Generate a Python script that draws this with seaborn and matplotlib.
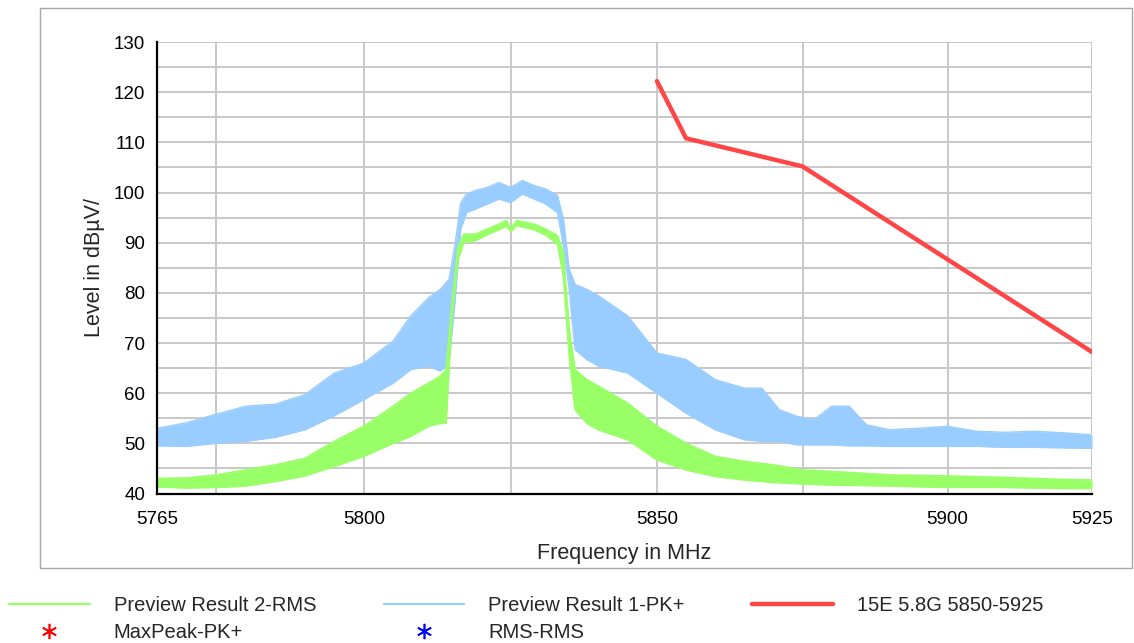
import numpy as np
import matplotlib
matplotlib.use("Agg")
import matplotlib.pyplot as plt
from matplotlib.lines import Line2D
from matplotlib.patches import Rectangle
from matplotlib.ticker import FixedLocator, FixedFormatter, NullLocator
import seaborn as sns

# Preview Result 1-PK+ (light blue band: lower / upper envelope, dBuV)
pk_freq = [5765, 5770, 5775, 5780, 5785, 5790, 5795, 5800, 5805, 5808, 5811, 5813,
           5814.5, 5815.5, 5816.5, 5817.5, 5819, 5821, 5823, 5825, 5827, 5829, 5831,
           5833, 5834, 5835, 5836, 5838, 5840, 5845, 5850, 5855, 5860, 5865, 5868,
           5871, 5874, 5877, 5880, 5883, 5886, 5890, 5895, 5900, 5905, 5910, 5915,
           5920, 5925]
pk_lo = [49.5, 49.4, 50.0, 50.4, 51.2, 52.7, 55.5, 58.7, 62.0, 64.7, 65.4, 64.4,
         66.0, 78.0, 92.7, 96.0, 96.7, 97.7, 98.7, 98.0, 99.7, 98.7, 97.7,
         96.0, 89.4, 80.7, 68.7, 66.7, 65.4, 64.0, 60.0, 56.0, 52.7, 50.7, 50.4,
         50.4, 49.7, 49.7, 49.7, 49.5, 49.5, 49.4, 49.4, 49.4, 49.4, 49.2, 49.2,
         49.1, 49.0]
pk_hi = [53.0, 54.1, 55.8, 57.4, 57.8, 59.7, 64.0, 66.0, 70.4, 75.4, 79.0, 80.7,
         82.7, 89.4, 98.0, 99.7, 100.4, 101.0, 102.0, 101.0, 102.4, 101.4, 100.7,
         99.4, 94.7, 84.7, 81.7, 80.7, 79.4, 75.4, 68.0, 66.7, 62.7, 61.0, 61.0,
         56.7, 55.4, 54.7, 57.4, 57.4, 53.7, 52.7, 53.0, 53.4, 52.4, 52.2, 52.4,
         52.1, 51.7]

# Preview Result 2-RMS (light green band)
rms_freq = [5765, 5770, 5775, 5780, 5785, 5790, 5795, 5800, 5805, 5808, 5811, 5813,
            5814, 5815, 5816, 5817, 5819, 5821, 5823, 5824.3, 5825, 5826, 5829, 5831,
            5833, 5834, 5835, 5836, 5838, 5840, 5845, 5850, 5855, 5860, 5865, 5870,
            5875, 5880, 5890, 5900, 5910, 5920, 5925]
rms_lo = [41.3, 41.1, 41.2, 41.5, 42.4, 43.5, 45.4, 47.4, 50.0, 51.4, 53.4, 54.0,
          54.0, 75.5, 86.5, 90.0, 90.4, 91.6, 92.6, 93.3, 92.2, 93.4, 92.6, 91.5,
          89.7, 83.4, 67.4, 56.7, 54.0, 52.7, 50.7, 46.7, 44.7, 43.4, 42.7, 42.2,
          41.9, 41.7, 41.5, 41.2, 41.2, 41.0, 41.0]
rms_hi = [43.0, 43.1, 43.7, 44.7, 45.7, 47.0, 50.4, 53.4, 57.4, 60.0, 62.0, 63.4,
          64.7, 78.0, 89.0, 91.7, 91.7, 92.7, 93.7, 94.4, 92.8, 94.4, 93.7, 92.7,
          91.4, 88.0, 72.7, 64.7, 62.7, 61.4, 58.0, 53.4, 50.0, 47.4, 46.4, 45.7,
          44.7, 44.4, 43.7, 43.5, 43.2, 42.8, 42.7]

# 15E 5.8G 5850-5925 limit line
limit_freq = [5850, 5855, 5875, 5925]
limit_level = [122.2, 110.8, 105.2, 68.2]

x_ticks = [5765, 5775, 5800, 5825, 5850, 5875, 5900, 5925]
x_labels = ["5765", "", "5800", "", "5850", "", "5900", "5925"]
y_ticks = list(range(40, 131, 5))
y_labels = [str(v) if v % 10 == 0 else "" for v in y_ticks]

GREEN = "#99ff66"
BLUE = "#99ccff"
RED = "#ff4545"

sns.set_style("white")
plt.rcParams["font.family"] = ["Liberation Sans", "DejaVu Sans"]

fig = plt.figure(figsize=(11.34, 6.43), dpi=100)
ax = fig.add_axes([157 / 1134, 1 - 493.5 / 643, (1092 - 157) / 1134, (493.5 - 42) / 643])

ax.fill_between(pk_freq, pk_lo, pk_hi, color=BLUE, lw=0, zorder=2)
ax.plot(pk_freq, pk_hi, color=BLUE, lw=1, zorder=2)
ax.plot(pk_freq, pk_lo, color=BLUE, lw=1, zorder=2)
ax.fill_between(rms_freq, rms_lo, rms_hi, color=GREEN, lw=0, zorder=3)
ax.plot(rms_freq, rms_hi, color=GREEN, lw=1.2, zorder=3)
ax.plot(rms_freq, rms_lo, color=GREEN, lw=1.2, zorder=3)
sns.lineplot(x=limit_freq, y=limit_level, ax=ax, color=RED, lw=3.2, zorder=4)

ax.set_xscale("log")
ax.set_xlim(5765, 5925)
ax.set_ylim(40, 130)
ax.xaxis.set_major_locator(FixedLocator(x_ticks))
ax.xaxis.set_major_formatter(FixedFormatter(x_labels))
ax.xaxis.set_minor_locator(NullLocator())
ax.yaxis.set_major_locator(FixedLocator(y_ticks))
ax.yaxis.set_major_formatter(FixedFormatter(y_labels))

ax.set_axisbelow(True)
ax.grid(True, color="#c8c8c8", lw=1.4)
for side in ["top", "right"]:
    ax.spines[side].set_visible(False)
for side in ["left", "bottom"]:
    ax.spines[side].set_color("black")
    ax.spines[side].set_linewidth(1.6)
    ax.spines[side].set_zorder(5)
ax.tick_params(axis="both", direction="inout", length=11, width=1.5,
               color="black", labelsize=13.5, labelcolor="black")
ax.tick_params(axis="x", pad=7)
ax.tick_params(axis="y", pad=3)

ax.set_xlabel("Frequency in MHz", fontsize=15.5, labelpad=11)
ax.set_ylabel("Level in dBµV/", fontsize=15.5, labelpad=6)

fig.add_artist(Rectangle((40 / 1134, 1 - 568 / 643), 1092 / 1134, 560 / 643,
                         transform=fig.transFigure, fill=False,
                         ec="#a8a8a8", lw=1.0))

handles = [
    Line2D([], [], color=GREEN, lw=1.6),
    Line2D([], [], ls="none", marker=(6, 2, 0), color="red", ms=11, mew=1.2),
    Line2D([], [], color=BLUE, lw=1.6),
    Line2D([], [], ls="none", marker=(6, 2, 0), color="blue", ms=11, mew=1.2),
    Line2D([], [], color=RED, lw=3.2),
]
labels = ["Preview Result 2-RMS", "MaxPeak-PK+", "Preview Result 1-PK+",
          "RMS-RMS", "15E 5.8G 5850-5925"]
fig.legend(handles, labels, ncol=3, loc="upper left",
           bbox_to_anchor=(9 / 1134, 1 - 596 / 643), frameon=False,
           fontsize=14.5, handlelength=4.0, handletextpad=1.2,
           columnspacing=3.35, labelspacing=0.42, borderpad=0, borderaxespad=0)

fig.savefig("out.png", dpi=100)
